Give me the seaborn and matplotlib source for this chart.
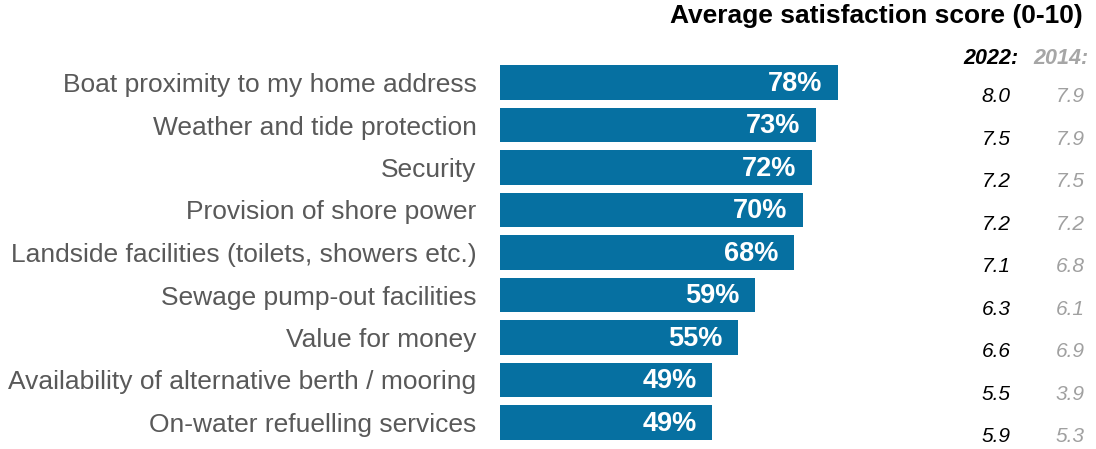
import matplotlib
matplotlib.use("Agg")
import matplotlib.pyplot as plt
import matplotlib.transforms as mtransforms
import seaborn as sns
import pandas as pd

# Attributes rated by berth holders
categories = [
    "Boat proximity to my home address",
    "Weather and tide protection",
    "Security",
    "Provision of shore power",
    "Landside facilities (toilets, showers etc.)",
    "Sewage pump-out facilities",
    "Value for money",
    "Availability of alternative berth / mooring",
    "On-water refuelling services",
]
# Share satisfied (%)
satisfied_pct = [78, 73, 72, 70, 68, 59, 55, 49, 49]
# Average satisfaction score (0-10)
score_2022 = ["8.0", "7.5", "7.2", "7.2", "7.1", "6.3", "6.6", "5.5", "5.9"]
score_2014 = ["7.9", "7.9", "7.5", "7.2", "6.8", "6.1", "6.9", "3.9", "5.3"]

df = pd.DataFrame({"attribute": categories, "pct": satisfied_pct})

sns.set_theme(style="white")
plt.rcParams["font.family"] = ["Liberation Sans", "DejaVu Sans"]

W, H = 1096, 449
fig = plt.figure(figsize=(W / 100, H / 100), dpi=100)
ax = fig.add_axes([500 / W, 5.25 / H, 433 / W, 382.5 / H])

BLUE = "#0670A1"
sns.barplot(data=df, x="pct", y="attribute", orient="h", color=BLUE,
            width=0.82, saturation=1, linewidth=0, ax=ax)

ax.set_xlim(0, 100)
ax.set_ylim(len(categories) - 0.5, -0.5)
ax.set_xlabel("")
ax.set_ylabel("")
ax.set_xticks([])
for s in ax.spines.values():
    s.set_visible(False)
ax.tick_params(axis="y", length=0, pad=17, labelsize=19, labelcolor="#595959")

# Value labels inside the bar ends
for i, v in enumerate(satisfied_pct):
    ax.text(v - 3.6, i + 0.03, f"{v}%", ha="right", va="center",
            color="white", fontsize=19.5, fontweight="bold")

# Score table on the right
fig.text(1083 / W, 1 - 16 / H, "Average satisfaction score (0-10)",
         ha="right", va="center", fontsize=19, fontweight="bold", color="black")
fig.text(991 / W, 1 - 58 / H, "2022:", ha="center", va="center",
         fontsize=15.5, fontweight="bold", fontstyle="italic", color="black")
fig.text(1061 / W, 1 - 58 / H, "2014:", ha="center", va="center",
         fontsize=15.5, fontweight="bold", fontstyle="italic", color="#A6A6A6")

trans = mtransforms.blended_transform_factory(fig.transFigure, ax.transData)
for i, (a, b) in enumerate(zip(score_2022, score_2014)):
    ax.text(996 / W, i + 0.33, a, transform=trans, ha="center", va="center",
            fontsize=15, fontstyle="italic", color="black")
    ax.text(1070 / W, i + 0.33, b, transform=trans, ha="center", va="center",
            fontsize=15, fontstyle="italic", color="#A0A0A0")

fig.savefig("out.png", dpi=100)
